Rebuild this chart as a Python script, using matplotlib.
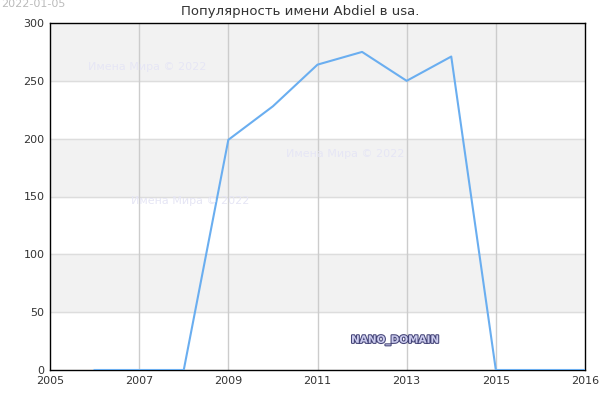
import matplotlib
matplotlib.use("Agg")
import matplotlib.pyplot as plt
import matplotlib.patheffects as pe

# popularity of the name per year (the line runs to the right edge of the axis)
years = [2006, 2007, 2008, 2009, 2010, 2011, 2012, 2013, 2014, 2015, 2016, 2017]
counts = [0, 0, 0, 199, 228, 264, 275, 250, 271, 0, 0, 0]

x_ticks = [2005, 2007, 2009, 2011, 2013, 2015, 2017]
x_labels = ["2005", "2007", "2009", "2011", "2013", "2015", "2016"]
y_ticks = [0, 50, 100, 150, 200, 250, 300]

fig = plt.figure(figsize=(6, 4), dpi=100)
ax = fig.add_axes([50 / 600, 30 / 400, 535 / 600, 347 / 400])

# alternating grey bands
for lo in (50, 150, 250):
    ax.axhspan(lo, lo + 50, color="#f2f2f2", zorder=0)
for y in y_ticks[1:-1]:
    ax.axhline(y, color="#dddddd", lw=1, zorder=1)
for x in x_ticks[1:-1]:
    ax.axvline(x, color="#cccccc", lw=1, zorder=1)

ax.plot(years, counts, color="#6aaef0", lw=1.5, zorder=3)

ax.set_xlim(2005, 2017)
ax.set_ylim(0, 300)
ax.set_xticks(x_ticks)
ax.set_xticklabels(x_labels)
ax.set_yticks(y_ticks)
ax.tick_params(length=0, labelsize=8, colors="#333333", pad=4)
for s in ax.spines.values():
    s.set_color("black")
    s.set_linewidth(1)

fig.text(0.5, 0.972, "Популярность имени Abdiel в usa.", ha="center", va="center",
         fontsize=9.5, color="#333333")
fig.text(0.002, 0.99, "2022-01-05", ha="left", va="center", fontsize=8, color="#bbbbbb")

# watermarks
for (px, py) in [(147, 67), (345, 154), (190, 201)]:
    fig.text(px / 600, 1 - py / 400, "Имена Мира © 2022", ha="center", va="center",
             fontsize=8, color="#e6e6f5", zorder=2)

fig.text(395 / 600, 1 - 340 / 400, "NANO_DOMAIN", ha="center", va="center",
         fontsize=7.5, color="#ccccee", fontweight="bold",
         path_effects=[pe.withStroke(linewidth=1.5, foreground="#444477")])

fig.savefig("out.png", dpi=100)
